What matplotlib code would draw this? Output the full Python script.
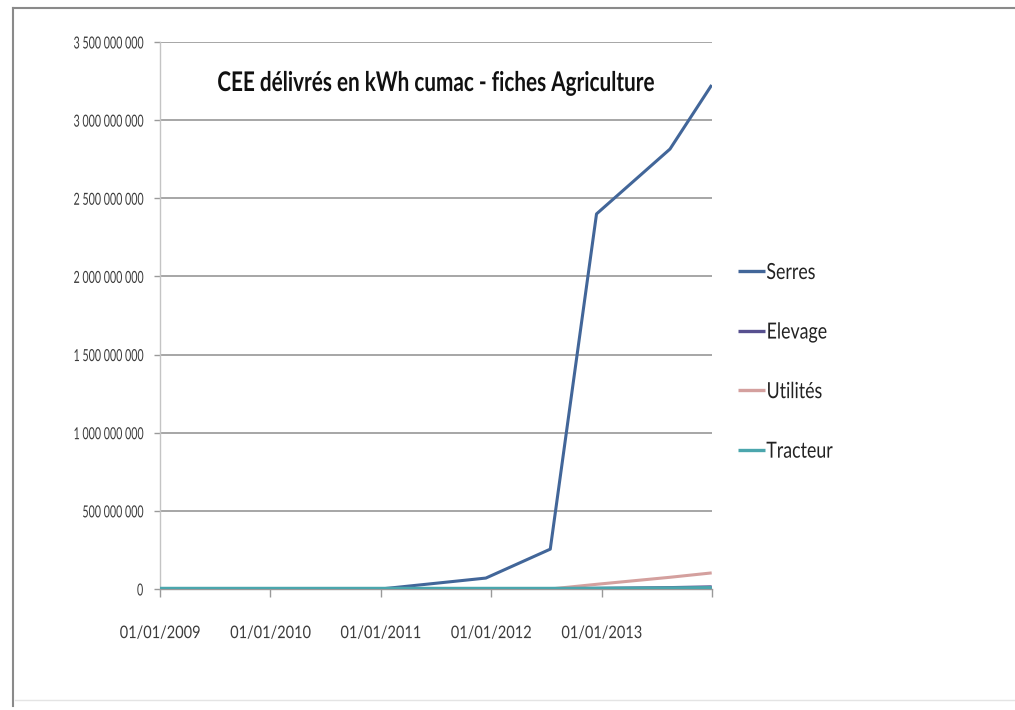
import matplotlib
matplotlib.use("Agg")
import matplotlib.pyplot as plt
from matplotlib.ticker import FuncFormatter, MultipleLocator
from matplotlib.patheffects import AbstractPathEffect
from matplotlib.transforms import Affine2D
import pandas as pd

# --- data -------------------------------------------------------------------
dates = pd.to_datetime([
    "2009-01-01", "2010-01-01", "2011-01-01", "2011-12-15",
    "2012-07-15", "2012-12-15", "2013-08-15", "2013-12-31",
])
serres = [0, 0, 0, 70e6, 255e6, 2400e6, 2815e6, 3225e6]
elevage = [0, 0, 0, 0, 0, 4e6, 9e6, 14e6]
utilites = [0, 0, 0, 0, 0, 30e6, 75e6, 103e6]
tracteur = [0, 0, 0, 0, 0, 1e6, 3e6, 5e6]

series_names = ["Serres", "Elevage", "Utilités", "Tracteur"]
series_colors = ["#426699", "#57508f", "#d4a09e", "#4ba6ad"]
series_widths = [2.2, 2.2, 2.2, 3.2]
title = "CEE délivrés en kWh cumac - fiches Agriculture"
x_tick_dates = pd.to_datetime(["2009-01-01", "2010-01-01", "2011-01-01",
                               "2012-01-01", "2013-01-01", "2014-01-01"])
x_tick_labels = ["01/01/2009", "01/01/2010", "01/01/2011",
                 "01/01/2012", "01/01/2013", ""]


class Narrow(AbstractPathEffect):
    """Draw text glyphs compressed horizontally (condensed look)."""

    def __init__(self, sx=0.85, anchor="center"):
        super().__init__()
        self.sx = sx
        self.anchor = anchor

    def draw_path(self, renderer, gc, tpath, affine, rgbFace=None):
        ext = tpath.get_extents()
        cx = {"left": ext.x0, "center": 0.5 * (ext.x0 + ext.x1),
              "right": ext.x1}[self.anchor]
        pre = Affine2D().translate(-cx, 0).scale(self.sx, 1).translate(cx, 0)
        renderer.draw_path(gc, tpath, pre + affine, rgbFace)


W, H = 1015, 710
fig = plt.figure(figsize=(W / 100, H / 100), dpi=100)
fig.patch.set_facecolor("white")

# outer frame: dark left and top edges, faint bottom edge
frame_kw = dict(transform=fig.transFigure)
fig.add_artist(plt.Line2D([13 / W, 13 / W], [1 - 706 / H, 1 - 8 / H],
                          color="#8a8a8a", linewidth=1.5, **frame_kw))
fig.add_artist(plt.Line2D([13 / W, 1], [1 - 8 / H, 1 - 8 / H],
                          color="#8a8a8a", linewidth=1.5, **frame_kw))
fig.add_artist(plt.Line2D([15 / W, 1], [1 - 700 / H] * 2,
                          color="#e4e4e4", linewidth=1.0, **frame_kw))

ax = fig.add_axes([160 / W, 1 - 589 / H, (712 - 160) / W, (589 - 42) / H])

series = [serres, elevage, utilites, tracteur]
lines = []
for name, vals, col, lw in zip(series_names, series, series_colors, series_widths):
    ln, = ax.plot(dates, vals, color=col, linewidth=lw, label=name,
                  solid_joinstyle="round", solid_capstyle="butt", zorder=3)
    lines.append(ln)

ax.set_ylim(0, 3.5e9)
ax.set_xlim(pd.Timestamp("2009-01-01"), pd.Timestamp("2014-01-01"))
ax.yaxis.set_major_locator(MultipleLocator(5e8))
ax.yaxis.set_major_formatter(FuncFormatter(lambda v, p: f"{int(v):,}".replace(",", " ")))
ax.set_xticks(x_tick_dates)
ax.set_xticklabels(x_tick_labels)

ax.grid(axis="y", color="#8e8e8e", linewidth=1.1, zorder=0)
ax.set_axisbelow(True)
for s in ["top", "right"]:
    ax.spines[s].set_visible(False)
ax.spines["left"].set_color("#c4c4c4")
ax.spines["left"].set_linewidth(1.0)
ax.spines["bottom"].set_color("#9a9a9a")
ax.spines["bottom"].set_linewidth(1.0)

ax.tick_params(axis="y", length=4, width=1, color="#9a9a9a", pad=8,
               labelsize=12, labelcolor="#3c3c3c")
ax.tick_params(axis="x", length=6, width=1, color="#9a9a9a", pad=20,
               labelsize=12.5, labelcolor="#3c3c3c")
for lab in ax.get_yticklabels():
    lab.set_fontfamily("Lato")
    lab.set_path_effects([Narrow(0.64, "right")])
for lab in ax.get_xticklabels():
    lab.set_fontfamily("Lato")
    lab.set_path_effects([Narrow(0.84, "center")])

t = fig.text(436 / W, 1 - 83 / H, title, ha="center", va="center",
             fontsize=19.5, fontweight="bold", fontfamily="Lato", color="#111111")
t.set_path_effects([Narrow(0.765, "center")])

leg = fig.legend(handles=lines, labels=series_names, loc="upper left",
                 bbox_to_anchor=(738 / W, 1 - 263 / H), bbox_transform=fig.transFigure,
                 frameon=False, borderpad=0, borderaxespad=0, handlelength=1.22,
                 handletextpad=0.05, labelspacing=1.78,
                 prop={"family": "Lato", "size": 16})
for txt in leg.get_texts():
    txt.set_color("#222222")
    txt.set_path_effects([Narrow(0.8, "left")])
for h in leg.legend_handles:
    h.set_linewidth(2.4)

fig.savefig("out.png", dpi=100, facecolor="white")
